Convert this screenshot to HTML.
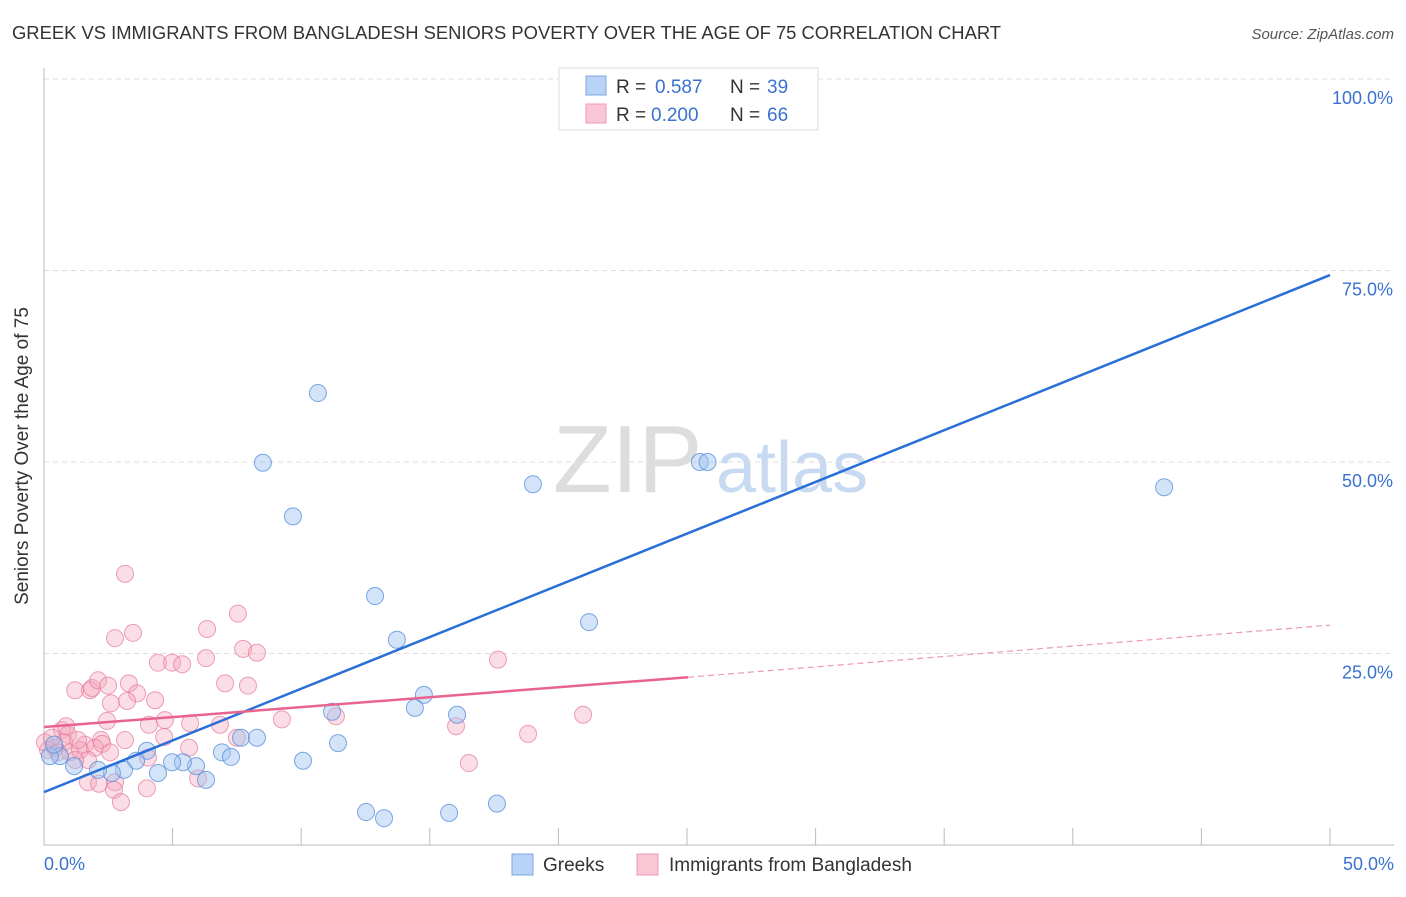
<!DOCTYPE html>
<html><head><meta charset="utf-8"><style>
body{margin:0;background:#fff;font-family:"Liberation Sans",sans-serif}
svg text{font-family:"Liberation Sans",sans-serif}
</style></head><body>
<svg id="chart" width="1406" height="892">
<text x="12" y="39" font-size="18" fill="#333" textLength="989" lengthAdjust="spacingAndGlyphs">GREEK VS IMMIGRANTS FROM BANGLADESH SENIORS POVERTY OVER THE AGE OF 75 CORRELATION CHART</text>
<text x="1394" y="39" font-size="15" fill="#555" font-style="italic" text-anchor="end">Source: ZipAtlas.com</text>
<g>
<text x="553" y="492" font-size="96" fill="#ddd" font-family="Liberation Serif,serif">ZIP</text>
<text x="716" y="492" font-size="72" fill="#c8daf2">atlas</text>
</g>
<g id="grid"></g>
<g id="axes"></g>
<g id="marks"></g>
<text x="28" y="456" font-size="19" fill="#333" text-anchor="middle" transform="rotate(-90 28 456)">Seniors Poverty Over the Age of 75</text>
<g>
<rect x="559" y="68" width="259" height="62" fill="#fff" stroke="#ddd"/>
<rect x="586" y="76" width="20" height="19" fill="#b9d3f6" stroke="#7aa7e6"/>
<rect x="586" y="104" width="20" height="19" fill="#f9c6d5" stroke="#ee9ab4"/>
<text x="616" y="93" font-size="19" fill="#333">R = </text><text x="655" y="93" font-size="19" fill="#3a72d0">0.587</text>
<text x="730" y="93" font-size="19" fill="#333">N = </text><text x="767" y="93" font-size="19" fill="#3a72d0">39</text>
<text x="616" y="121" font-size="19" fill="#333">R = </text><text x="651" y="121" font-size="19" fill="#3a72d0">0.200</text>
<text x="730" y="121" font-size="19" fill="#333">N = </text><text x="767" y="121" font-size="19" fill="#3a72d0">66</text>
</g>
<g>
<rect x="512" y="854" width="21" height="21" fill="#b9d3f6" stroke="#7aa7e6"/>
<text x="543" y="871" font-size="19" fill="#333">Greeks</text>
<rect x="637" y="854" width="21" height="21" fill="#f9c6d5" stroke="#ee9ab4"/>
<text x="669" y="871" font-size="19" fill="#333">Immigrants from Bangladesh</text>
</g>
</svg>
<script>
const blueX=[10.65,8.51,9.68,12.87,13.72,19.01,25.5,25.8,43.55,21.19,24.34,14.77,14.42,16.06,11.2,11.43,10.07,6.92,7.27,7.66,8.28,5.91,6.3,5.4,4.98,4.43,4.0,3.58,3.11,2.64,2.1,1.17,0.62,0.23,0.39,12.52,13.22,15.75,17.61];
const blueY=[59.0,49.9,42.9,32.5,26.8,47.1,50.0,50.0,46.7,29.1,100.1,19.6,17.9,17.0,17.4,13.3,11.0,12.1,11.5,14.0,14.0,10.3,8.5,10.8,10.8,9.4,12.3,11.0,9.8,9.4,9.8,10.3,11.6,11.6,13.1,4.3,3.5,4.2,5.4];
const pinkX=[3.15,7.54,2.76,3.46,6.34,4.43,4.98,5.37,6.3,7.74,8.28,17.65,1.21,1.79,1.87,2.1,2.49,3.3,3.62,7.04,7.93,4.32,2.6,3.23,2.45,4.08,4.7,5.68,6.84,9.25,11.35,16.02,20.96,0.7,0.93,0.78,2.22,1.59,3.15,4.67,5.64,7.5,18.82,16.52,1.71,2.14,2.76,2.72,2.99,4.0,5.99,0.43,0.16,0.54,1.01,1.4,1.98,2.26,1.32,0.04,0.31,2.57,1.71,0.86,4.04,1.21];
const pinkY=[35.4,30.2,27.0,27.7,28.2,23.8,23.8,23.6,24.4,25.6,25.1,24.2,20.2,20.2,20.5,21.5,20.8,21.1,19.8,21.1,20.8,18.9,18.5,18.8,16.2,15.7,16.3,15.9,15.7,16.4,16.8,15.5,17.0,15.0,14.4,13.4,13.7,13.1,13.7,14.1,12.7,14.0,14.5,10.7,8.2,8.0,8.2,7.2,5.6,7.4,8.7,12.7,12.4,12.1,12.1,12.4,12.7,13.2,13.7,13.4,14.0,12.1,11.1,15.5,11.4,11.1];
const blueTrend=[6.9,74.4];
const pinkTrend=[15.4,21.9,28.7];
const pinkTrendBreak=25.04;
const yTicks=[25,50,75,100];
const yTickLabels=["25.0%","50.0%","75.0%","100.0%"];
const xTicks=[0,5,10,15,20,25,30,35,40,45,50];

const X=v=>44+v*25.72, Y=v=>845-v*7.66;
const NS="http://www.w3.org/2000/svg";
function mk(parent,tag,attrs){const e=document.createElementNS(NS,tag);for(const k in attrs)e.setAttribute(k,attrs[k]);document.getElementById(parent).appendChild(e);return e;}
yTicks.forEach((t,i)=>{
  const l=mk('grid','line',{x1:44,x2:1394,y1:Y(t),y2:Y(t),stroke:'#ddd','stroke-dasharray':'5,4'});
  
  
  const tx=mk('grid','text',{x:1393,y:Y(t)+25,'font-size':18,fill:'#3a72d0','text-anchor':'end'});
  tx.textContent=yTickLabels[i];
  
  
});
let a=mk('axes','line',{x1:44,x2:44,y1:68,y2:845,stroke:'#bbb'});


a=mk('axes','line',{x1:44,x2:1394,y1:845,y2:845,stroke:'#bbb'});


xTicks.forEach(t=>{
  const l=mk('axes','line',{x1:X(t),x2:X(t),y1:828,y2:845,stroke:'#bbb'});
  
  
});
let t0=mk('axes','text',{x:44,y:870,'font-size':18,fill:'#3a72d0'});t0.textContent="0.0%";


let t1=mk('axes','text',{x:1394,y:870,'font-size':18,fill:'#3a72d0','text-anchor':'end'});t1.textContent="50.0%";



pinkX.forEach((x,i)=>{
  const c=mk('marks','circle',{cx:X(x),cy:Y(pinkY[i]),r:8.5,fill:'rgba(244,165,190,0.38)',stroke:'rgba(230,120,155,0.7)','stroke-width':1});
  
  
});
blueX.forEach((x,i)=>{
  const c=mk('marks','circle',{cx:X(x),cy:Y(blueY[i]),r:8.5,fill:'rgba(160,196,240,0.45)',stroke:'rgba(90,145,220,0.8)','stroke-width':1});
  
  
});
let tl=mk('marks','line',{x1:X(0),y1:Y(blueTrend[0]),x2:X(50),y2:Y(blueTrend[1]),stroke:'#2a6fd8','stroke-width':2.5});


tl=mk('marks','line',{x1:X(0),y1:Y(pinkTrend[0]),x2:X(pinkTrendBreak),y2:Y(pinkTrend[1]),stroke:'#e8648e','stroke-width':2.5});


tl=mk('marks','line',{x1:X(pinkTrendBreak),y1:Y(pinkTrend[1]),x2:X(50),y2:Y(pinkTrend[2]),stroke:'#eb9ab4','stroke-width':1.2,'stroke-dasharray':'6,4'});


</script>
</body></html>
